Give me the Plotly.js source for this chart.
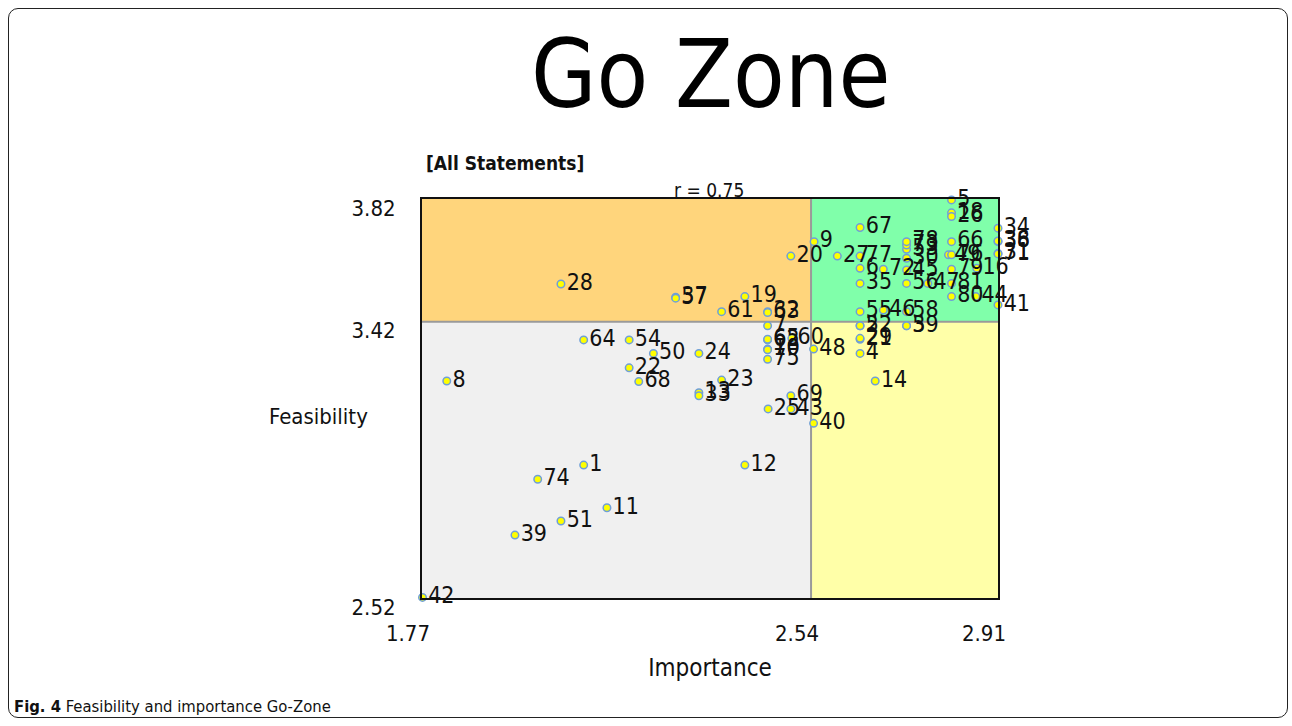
<!DOCTYPE html>
<html>
<head>
<meta charset="utf-8">
<script src="https://cdn.plot.ly/plotly-3.0.1.min.js"></script>
<style>
  html, body { margin: 0; padding: 0; background: #fff; }
  #wrap { position: relative; width: 1292px; height: 726px; }
  #frame { position: absolute; left: 8px; top: 8px; width: 1280px; height: 710px;
           border: 1.5px solid #222; border-radius: 10px; box-sizing: border-box; pointer-events: none; }
  #chart { position: absolute; left: 0; top: 0; width: 1292px; height: 726px; }
</style>
</head>
<body>
<div id="wrap">
  <div id="chart"></div>
  <div id="frame"></div>
</div>
<script>
// Statement numbers with their Importance (x) and Feasibility (y) ratings
const statementLabels = ["1","2","3","4","5","6","7","8","9","10","11","12","13","14","16","18","19","20","21","22","23","24","25","26","27","28","29","30","31","32","33","34","35","36","37","38","39","40","41","42","43","44","45","46","47","48","49","50","51","52","53","54","55","56","57","58","59","60","61","62","63","64","65","66","67","68","69","70","71","72","73","74","75","76","77","78","79","80","81"];
const importance = [2.090,2.637,2.729,2.637,2.818,2.637,2.454,1.819,2.546,2.454,2.136,2.409,2.318,2.667,2.868,2.818,2.409,2.500,2.637,2.180,2.363,2.318,2.455,2.818,2.592,2.045,2.637,2.729,2.910,2.454,2.318,2.910,2.637,2.910,2.272,2.910,1.954,2.545,2.910,1.771,2.500,2.866,2.729,2.683,2.771,2.545,2.812,2.228,2.045,2.637,2.729,2.180,2.637,2.729,2.272,2.729,2.729,2.502,2.363,2.454,2.454,2.090,2.454,2.818,2.637,2.199,2.500,2.454,2.910,2.683,2.729,1.999,2.454,2.818,2.637,2.729,2.818,2.818,2.818];
const feasibility = [2.953,3.407,3.407,3.317,3.817,3.594,3.407,3.227,3.681,3.331,2.814,2.953,3.189,3.227,3.594,3.775,3.502,3.634,3.363,3.270,3.230,3.317,3.136,3.763,3.634,3.543,3.366,3.627,3.643,3.453,3.179,3.725,3.545,3.681,3.500,3.683,2.725,3.089,3.475,2.522,3.136,3.502,3.589,3.458,3.545,3.331,3.638,3.317,2.771,3.407,3.656,3.361,3.453,3.545,3.497,3.453,3.407,3.366,3.453,3.361,3.450,3.361,3.363,3.681,3.727,3.225,3.179,3.329,3.641,3.591,3.670,2.907,3.298,3.638,3.634,3.681,3.591,3.502,3.545];

// Axis bounds and quadrant split values (means)
const xTicks = [1.77, 2.54, 2.91];
const yTicks = [2.52, 3.42, 3.82];
const xMin = 1.77, xSplit = 2.54, xMax = 2.91;
const yMin = 2.52, ySplit = 3.42, yMax = 3.82;
const correlationText = "r = 0.75";

const FONT = "'Liberation Sans Narrow', 'DejaVu Sans Condensed', 'Liberation Sans', Arial, sans-serif";

const trace = {
  type: "scatter",
  mode: "markers+text",
  x: importance,
  y: feasibility,
  text: statementLabels,
  textposition: "middle right",
  textfont: { family: FONT, size: 23, color: "#111" },
  cliponaxis: false,
  marker: { size: 7.5, color: "#FFFF00", line: { color: "#6F9FD8", width: 1.5 } },
  hoverinfo: "text+x+y",
  showlegend: false
};

const quad = (x0, x1, y0, y1, color) => ({
  type: "rect", xref: "x", yref: "y", x0: x0, x1: x1, y0: y0, y1: y1,
  fillcolor: color, line: { width: 0 }, layer: "below"
});

const layout = {
  width: 1292, height: 726,
  margin: { l: 422, r: 294, t: 199, b: 128 },
  paper_bgcolor: "rgba(0,0,0,0)",
  plot_bgcolor: "#ffffff",
  font: { family: FONT, color: "#111" },
  xaxis: {
    range: [xMin, xMax], tickvals: xTicks, ticktext: xTicks.map(v => v.toFixed(2)),
    showgrid: false, zeroline: false, showline: true, mirror: true,
    linecolor: "#111", linewidth: 2, ticks: "",
    tickfont: { family: FONT, size: 22, color: "#111" },
    ticklabelstandoff: 15, ticklabelshift: -14,
    title: { text: "Importance", font: { family: FONT, size: 24, color: "#111" }, standoff: 14 }
  },
  yaxis: {
    range: [yMin, yMax], tickvals: yTicks, ticktext: yTicks.map(v => v.toFixed(2)),
    showgrid: false, zeroline: false, showline: true, mirror: true,
    linecolor: "#111", linewidth: 2, ticks: "",
    tickfont: { family: FONT, size: 22, color: "#111" },
    ticklabelstandoff: 20, ticklabelshift: 9
  },
  shapes: [
    quad(xMin, xSplit, ySplit, yMax, "#FFD57C"),
    quad(xSplit, xMax, ySplit, yMax, "#80FFAA"),
    quad(xMin, xSplit, yMin, ySplit, "#F0F0F0"),
    quad(xSplit, xMax, yMin, ySplit, "#FFFFA8"),
    { type: "line", xref: "x", yref: "y", x0: xSplit, x1: xSplit, y0: yMin, y1: yMax,
      line: { color: "#9A9A9A", width: 2 }, layer: "below" },
    { type: "line", xref: "x", yref: "y", x0: xMin, x1: xMax, y0: ySplit, y1: ySplit,
      line: { color: "#9A9A9A", width: 2 }, layer: "below" }
  ],
  annotations: [
    { text: "Go Zone", xref: "paper", yref: "paper", x: 0.5, y: 1.311,
      xanchor: "center", yanchor: "middle", showarrow: false,
      font: { family: FONT, size: 94, color: "#000" } },
    { text: "<b>[All Statements]</b>", xref: "paper", yref: "paper", x: 0.004, y: 1.090,
      xanchor: "left", yanchor: "middle", showarrow: false,
      font: { family: FONT, size: 19, color: "#111" } },
    { text: correlationText, xref: "paper", yref: "paper", x: 0.498, y: 1.022,
      xanchor: "center", yanchor: "middle", showarrow: false,
      font: { family: FONT, size: 19, color: "#111" } },
    { text: "Feasibility", xref: "paper", yref: "paper", x: -0.179, y: 0.454,
      xanchor: "center", yanchor: "middle", showarrow: false,
      font: { family: FONT, size: 22, color: "#111" } },
    { text: "<b>Fig. 4</b> Feasibility and importance Go-Zone", xref: "paper", yref: "paper",
      x: -0.712, y: -0.271, xanchor: "left", yanchor: "middle", showarrow: false,
      font: { family: FONT, size: 16.5, color: "#111" } }
  ]
};

Plotly.newPlot("chart", [trace], layout, { displayModeBar: false, staticPlot: true });
</script>
</body>
</html>
